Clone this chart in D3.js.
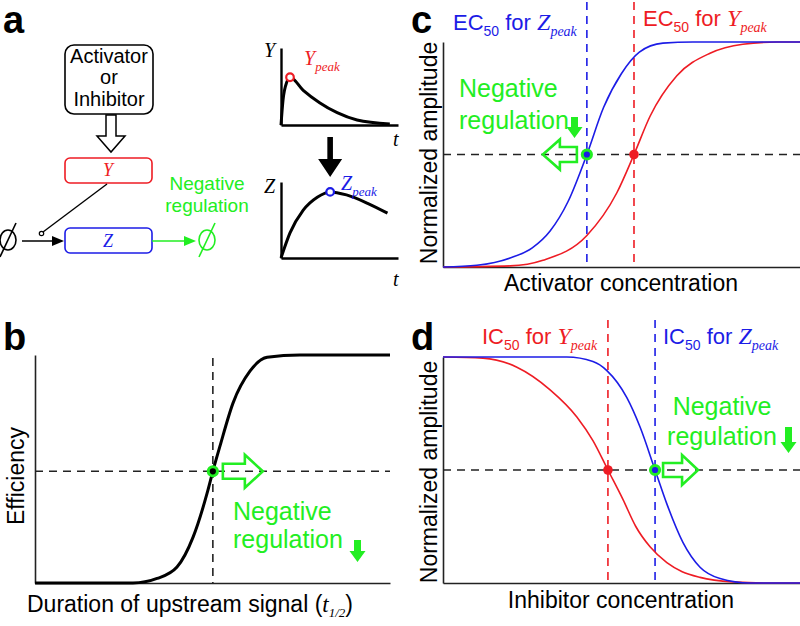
<!DOCTYPE html>
<html><head><meta charset="utf-8">
<script src="https://cdn.jsdelivr.net/npm/d3@7"></script>
<style>body{margin:0;background:#fff} svg{display:block} text{font-family:"Liberation Sans",Arial,sans-serif}</style>
</head><body>
<svg id="chart" width="800" height="626"></svg>
<script>
// ---------- data ----------
// panel a: time courses (t in arbitrary units 0-10, amplitude 0-1)
const yTime = [0, 0.17, 0.5, 0.77, 1.9, 3.3, 4.8, 6.5, 9.3];
const yVals = [0, 0.32, 0.56, 0.62, 0.45, 0.29, 0.16, 0.065, 0.013];
const zTime = [0, 0.77, 1.9, 3.1, 4.2, 5.6, 7.4, 9.1];
const zVals = [0, 0.33, 0.63, 0.80, 0.87, 0.83, 0.72, 0.59];
const yPeak = [0.77, 0.62];
const zPeak = [4.2, 0.87];
// panel b: efficiency vs duration of upstream signal
const bX = [0, 27.6, 34.4, 40, 44.5, 48.5, 50.1, 52.1, 55.8, 60.6, 65.4, 74.6, 100];
const bY = [0, 0, 0.02, 0.07, 0.2, 0.395, 0.49, 0.6, 0.79, 0.93, 0.99, 1, 1];
const bThreshold = [50.1, 0.49];
// panel c: activator dose-response
const cXblue = [0, 9.5, 18.8, 25, 30, 35, 40.3, 45, 50, 55, 61.6, 70, 100];
const cYblue = [0, 0.008, 0.04, 0.085, 0.16, 0.29, 0.5, 0.71, 0.86, 0.955, 0.995, 1, 1];
const cXred = [0, 18.8, 28, 40.3, 48.7, 53.5, 58, 65.5, 74.8, 84, 93.6, 100];
const cYred = [0, 0.005, 0.03, 0.14, 0.33, 0.5, 0.67, 0.85, 0.95, 0.99, 1, 1];
const cEC50 = {Z: 40.3, Y: 53.5};
// panel d: inhibitor dose-response
const dXblue = [0, 34.7, 42, 45.9, 51.5, 55.2, 59.4, 62.7, 67.2, 72, 77.6, 86, 100];
const dYblue = [1, 1, 0.98, 0.94, 0.82, 0.69, 0.5, 0.35, 0.18, 0.07, 0.02, 0, 0];
const dXred = [0, 11.2, 20.7, 30, 37.5, 42, 46.2, 50.4, 54, 58, 62.7, 67, 72, 81, 90, 100];
const dYred = [1, 0.995, 0.955, 0.855, 0.735, 0.63, 0.5, 0.37, 0.25, 0.16, 0.09, 0.05, 0.025, 0.005, 0, 0];
const dIC50 = {Y: 46.2, Z: 59.4};

// ---------- drawing ----------
const svg = d3.select("#chart");
const RED = "#ee1c24", BLUE = "#1c1ce6", GREEN = "#22ee22", AX = "#222";
const SERIF = '"Liberation Serif","Times New Roman",serif';
const zip = (xs, ys) => xs.map((x, i) => [x, ys[i]]);

function axes(x, y, sw, col) {
  const [x0] = x.range(), [y0] = y.range();
  const gx = svg.append("g").attr("transform", `translate(0,${y0})`)
    .call(d3.axisBottom(x).tickValues([]).tickSizeOuter(0));
  const gy = svg.append("g").attr("transform", `translate(${x0},0)`)
    .call(d3.axisLeft(y).tickValues([]).tickSizeOuter(0));
  [gx, gy].forEach(g => g.select(".domain").attr("stroke", col).attr("stroke-width", sw));
}
function curve(x, y, xs, ys, col, sw) {
  svg.append("path").datum(zip(xs, ys))
    .attr("fill", "none").attr("stroke", col).attr("stroke-width", sw)
    .attr("stroke-linejoin", "round")
    .attr("d", d3.line().x(d => x(d[0])).y(d => y(d[1])).curve(d3.curveMonotoneX));
}
function dash(x1, y1, x2, y2, col) {
  svg.append("line").attr("x1", x1).attr("y1", y1).attr("x2", x2).attr("y2", y2)
    .attr("stroke", col).attr("stroke-width", 1.6).attr("stroke-dasharray", "8,6");
}
function hollowArrow(xBack, yc, len, dir, headLen, headHalf, shaftHalf) {
  const s = dir, xh = xBack + s * (len - headLen), xt = xBack + s * len;
  const pts = [[xBack, yc - shaftHalf], [xh, yc - shaftHalf], [xh, yc - headHalf], [xt, yc],
               [xh, yc + headHalf], [xh, yc + shaftHalf], [xBack, yc + shaftHalf]];
  svg.append("path").attr("d", "M" + pts.join("L") + "Z")
    .attr("fill", "none").attr("stroke", GREEN).attr("stroke-width", 2.6).attr("stroke-linejoin", "miter");
}
function downArrow(xc, yTop, yBot, col, shaftHalf, headHalf, headLen) {
  const yh = yBot - headLen;
  const pts = [[xc - shaftHalf, yTop], [xc + shaftHalf, yTop], [xc + shaftHalf, yh], [xc + headHalf, yh],
               [xc, yBot], [xc - headHalf, yh], [xc - shaftHalf, yh]];
  svg.append("path").attr("d", "M" + pts.join("L") + "Z").attr("fill", col);
}
function label(x, y, parts, col, anchor) {
  const t = svg.append("text").attr("x", x).attr("y", y).attr("fill", col)
    .attr("text-anchor", anchor || "start");
  parts.forEach(p => {
    const ts = t.append("tspan").text(p.t).attr("font-size", p.s);
    if (p.serif) ts.attr("font-family", SERIF).attr("font-style", "italic");
    if (p.dy) ts.attr("dy", p.dy);
  });
  return t;
}
function panelLetter(x, y, s) {
  svg.append("text").attr("x", x).attr("y", y).text(s)
    .attr("font-size", 38).attr("font-weight", "bold").attr("fill", "#000");
}
function greenText(x, y1, y2, size, anchor) {
  svg.append("text").attr("x", x).attr("y", y1).text("Negative")
    .attr("font-size", size).attr("fill", GREEN).attr("text-anchor", anchor || "start");
  svg.append("text").attr("x", x).attr("y", y2).text("regulation")
    .attr("font-size", size).attr("fill", GREEN).attr("text-anchor", anchor || "start");
}
function greenRing(cx, cy, inner) {
  svg.append("circle").attr("cx", cx).attr("cy", cy).attr("r", 4.6)
    .attr("fill", inner).attr("stroke", GREEN).attr("stroke-width", 3);
}

// ===== Panel a =====
panelLetter(3, 33, "a");
// Activator / Inhibitor box
svg.append("rect").attr("x", 65).attr("y", 45).attr("width", 88).attr("height", 69).attr("rx", 9)
  .attr("fill", "#fff").attr("stroke", "#000").attr("stroke-width", 1.6);
[["Activator", 63], ["or", 84], ["Inhibitor", 106]].forEach(([s, y]) =>
  svg.append("text").attr("x", 109).attr("y", y).attr("text-anchor", "middle")
    .attr("font-size", 20).text(s));
// hollow down arrow
svg.append("path").attr("d", "M106,115L116,115L116,136L125,136L111,152L97,136L106,136Z")
  .attr("fill", "#fff").attr("stroke", "#000").attr("stroke-width", 1.5);
// Y and Z boxes
svg.append("rect").attr("x", 65).attr("y", 158).attr("width", 87).attr("height", 25).attr("rx", 5)
  .attr("fill", "#fff").attr("stroke", RED).attr("stroke-width", 1.6);
svg.append("rect").attr("x", 65).attr("y", 228).attr("width", 87).attr("height", 25).attr("rx", 5)
  .attr("fill", "#fff").attr("stroke", BLUE).attr("stroke-width", 1.6);
label(108, 176, [{t: "Y", s: 18, serif: true}], RED, "middle");
label(108, 247, [{t: "Z", s: 18, serif: true}], BLUE, "middle");
// catalysis line
svg.append("line").attr("x1", 107).attr("y1", 184).attr("x2", 43).attr("y2", 232)
  .attr("stroke", "#000").attr("stroke-width", 1.4);
svg.append("circle").attr("cx", 41.5).attr("cy", 233.5).attr("r", 2.2)
  .attr("fill", "#fff").attr("stroke", "#000").attr("stroke-width", 1.2);
// empty set symbols
function emptySet(cx, cy, col) {
  svg.append("ellipse").attr("cx", cx).attr("cy", cy).attr("rx", 8).attr("ry", 10)
    .attr("fill", "none").attr("stroke", col).attr("stroke-width", 1.6);
  svg.append("line").attr("x1", cx + 8).attr("y1", cy - 17).attr("x2", cx - 8).attr("y2", cy + 17)
    .attr("stroke", col).attr("stroke-width", 1.6);
}
emptySet(8, 240, "#000");
emptySet(207, 240, GREEN);
// production arrow
svg.append("line").attr("x1", 22).attr("y1", 241).attr("x2", 55).attr("y2", 241)
  .attr("stroke", "#000").attr("stroke-width", 1.6);
svg.append("path").attr("d", "M64,241L52,236L52,246Z").attr("fill", "#000");
// degradation arrow
svg.append("line").attr("x1", 152).attr("y1", 241).attr("x2", 186).attr("y2", 241)
  .attr("stroke", GREEN).attr("stroke-width", 1.6);
svg.append("path").attr("d", "M196,241L184,236L184,246Z").attr("fill", GREEN);
greenText(207, 190, 212, 19, "middle");

// time-course plots
const xT = d3.scaleLinear().domain([0, 10]).range([281, 398]);
const yTy = d3.scaleLinear().domain([0, 1]).range([125, 48]);
const yTz = d3.scaleLinear().domain([0, 1]).range([258, 182]);
axes(xT, yTy, 2.4, "#000");
axes(xT, yTz, 2.4, "#000");
curve(xT, yTy, yTime, yVals, "#000", 3);
curve(xT, yTz, zTime, zVals, "#000", 3);
svg.append("circle").attr("cx", xT(yPeak[0])).attr("cy", yTy(yPeak[1])).attr("r", 3.8)
  .attr("fill", "#fff").attr("stroke", RED).attr("stroke-width", 2.2);
svg.append("circle").attr("cx", xT(zPeak[0])).attr("cy", yTz(zPeak[1])).attr("r", 3.8)
  .attr("fill", "#fff").attr("stroke", BLUE).attr("stroke-width", 2.2);
label(264, 57, [{t: "Y", s: 20, serif: true}], "#000");
label(264, 193, [{t: "Z", s: 20, serif: true}], "#000");
label(393, 146, [{t: "t", s: 20, serif: true}], "#000");
label(393, 286, [{t: "t", s: 20, serif: true}], "#000");
label(304, 65, [{t: "Y", s: 20, serif: true}, {t: "peak", s: 13, serif: true, dy: 6}], RED);
label(341, 190, [{t: "Z", s: 20, serif: true}, {t: "peak", s: 13, serif: true, dy: 6}], BLUE);
downArrow(xT(zPeak[0]), 137, 177, "#000", 2.8, 12, 18);

// ===== Panel b =====
panelLetter(3, 350, "b");
const xb = d3.scaleLinear().domain([0, 100]).range([35, 390]);
const yb = d3.scaleLinear().domain([0, 1]).range([583, 355]);
dash(xb(0), yb(bThreshold[1]), xb(100), yb(bThreshold[1]), "#222");
dash(xb(bThreshold[0]), 358, xb(bThreshold[0]), yb(0), "#222");
axes(xb, yb, 1.6, AX);
curve(xb, yb, bX, bY, "#000", 3);
greenRing(xb(bThreshold[0]), yb(bThreshold[1]), "#000");
hollowArrow(xb(bThreshold[0]) + 10, yb(bThreshold[1]), 40, 1, 18, 16.5, 7.5);
greenText(233, 520, 548, 25);
downArrow(357.5, 540, 562, GREEN, 3.5, 8, 11);
svg.append("text").attr("transform", "translate(24,476) rotate(-90)").attr("text-anchor", "middle")
  .attr("font-size", 23).text("Efficiency");
label(27, 612, [{t: "Duration of upstream signal (", s: 23}, {t: "t", s: 23, serif: true},
  {t: "1/2", s: 13, serif: true, dy: 5}, {t: ")", s: 23, dy: -5}], "#000");

// ===== Panel c =====
panelLetter(411, 33, "c");
const xc = d3.scaleLinear().domain([0, 100]).range([443, 800]);
const yc = d3.scaleLinear().domain([0, 1]).range([267, 42]);
dash(xc(0), yc(0.5), xc(100), yc(0.5), "#222");
dash(xc(cEC50.Z), 2, xc(cEC50.Z), yc(0), BLUE);
dash(xc(cEC50.Y), 2, xc(cEC50.Y), yc(0), RED);
axes(xc, yc, 1.6, AX);
curve(xc, yc, cXred, cYred, RED, 1.6);
curve(xc, yc, cXblue, cYblue, BLUE, 1.6);
svg.append("circle").attr("cx", xc(cEC50.Y)).attr("cy", yc(0.5)).attr("r", 4.8).attr("fill", RED);
greenRing(xc(cEC50.Z), yc(0.5), BLUE);
hollowArrow(xc(cEC50.Z) - 10, yc(0.5), 34, -1, 17, 15, 7.5);
greenText(459, 97, 129, 25);
downArrow(574.5, 117, 138, GREEN, 3.5, 8, 11);
label(453, 30, [{t: "EC", s: 22}, {t: "50", s: 14, dy: 6}, {t: " for ", s: 22, dy: -6},
  {t: "Z", s: 24, serif: true}, {t: "peak", s: 14, serif: true, dy: 6}], BLUE);
label(643, 26, [{t: "EC", s: 22}, {t: "50", s: 14, dy: 6}, {t: " for ", s: 22, dy: -6},
  {t: "Y", s: 24, serif: true}, {t: "peak", s: 14, serif: true, dy: 6}], RED);
svg.append("text").attr("transform", "translate(437,153) rotate(-90)").attr("text-anchor", "middle")
  .attr("font-size", 23).text("Normalized amplitude");
svg.append("text").attr("x", 621).attr("y", 291).attr("text-anchor", "middle")
  .attr("font-size", 23).text("Activator concentration");

// ===== Panel d =====
panelLetter(411, 350, "d");
const xd = d3.scaleLinear().domain([0, 100]).range([443, 800]);
const yd = d3.scaleLinear().domain([0, 1]).range([583, 357]);
dash(xd(0), yd(0.5), xd(100), yd(0.5), "#222");
dash(xd(dIC50.Y), 320, xd(dIC50.Y), yd(0), RED);
dash(xd(dIC50.Z), 320, xd(dIC50.Z), yd(0), BLUE);
axes(xd, yd, 1.6, AX);
curve(xd, yd, dXred, dYred, RED, 1.6);
curve(xd, yd, dXblue, dYblue, BLUE, 1.6);
svg.append("circle").attr("cx", xd(dIC50.Y)).attr("cy", yd(0.5)).attr("r", 4.8).attr("fill", RED);
greenRing(xd(dIC50.Z), yd(0.5), BLUE);
hollowArrow(xd(dIC50.Z) + 8, yd(0.5), 35, 1, 16, 15, 7);
greenText(722, 415, 445, 25, "middle");
downArrow(788.5, 427, 453, GREEN, 3.5, 8, 11);
label(482, 344, [{t: "IC", s: 22}, {t: "50", s: 14, dy: 6}, {t: " for ", s: 22, dy: -6},
  {t: "Y", s: 24, serif: true}, {t: "peak", s: 14, serif: true, dy: 6}], RED);
label(663, 344, [{t: "IC", s: 22}, {t: "50", s: 14, dy: 6}, {t: " for ", s: 22, dy: -6},
  {t: "Z", s: 24, serif: true}, {t: "peak", s: 14, serif: true, dy: 6}], BLUE);
svg.append("text").attr("transform", "translate(437,472) rotate(-90)").attr("text-anchor", "middle")
  .attr("font-size", 23).text("Normalized amplitude");
svg.append("text").attr("x", 621).attr("y", 608).attr("text-anchor", "middle")
  .attr("font-size", 23).text("Inhibitor concentration");
</script>
</body></html>
